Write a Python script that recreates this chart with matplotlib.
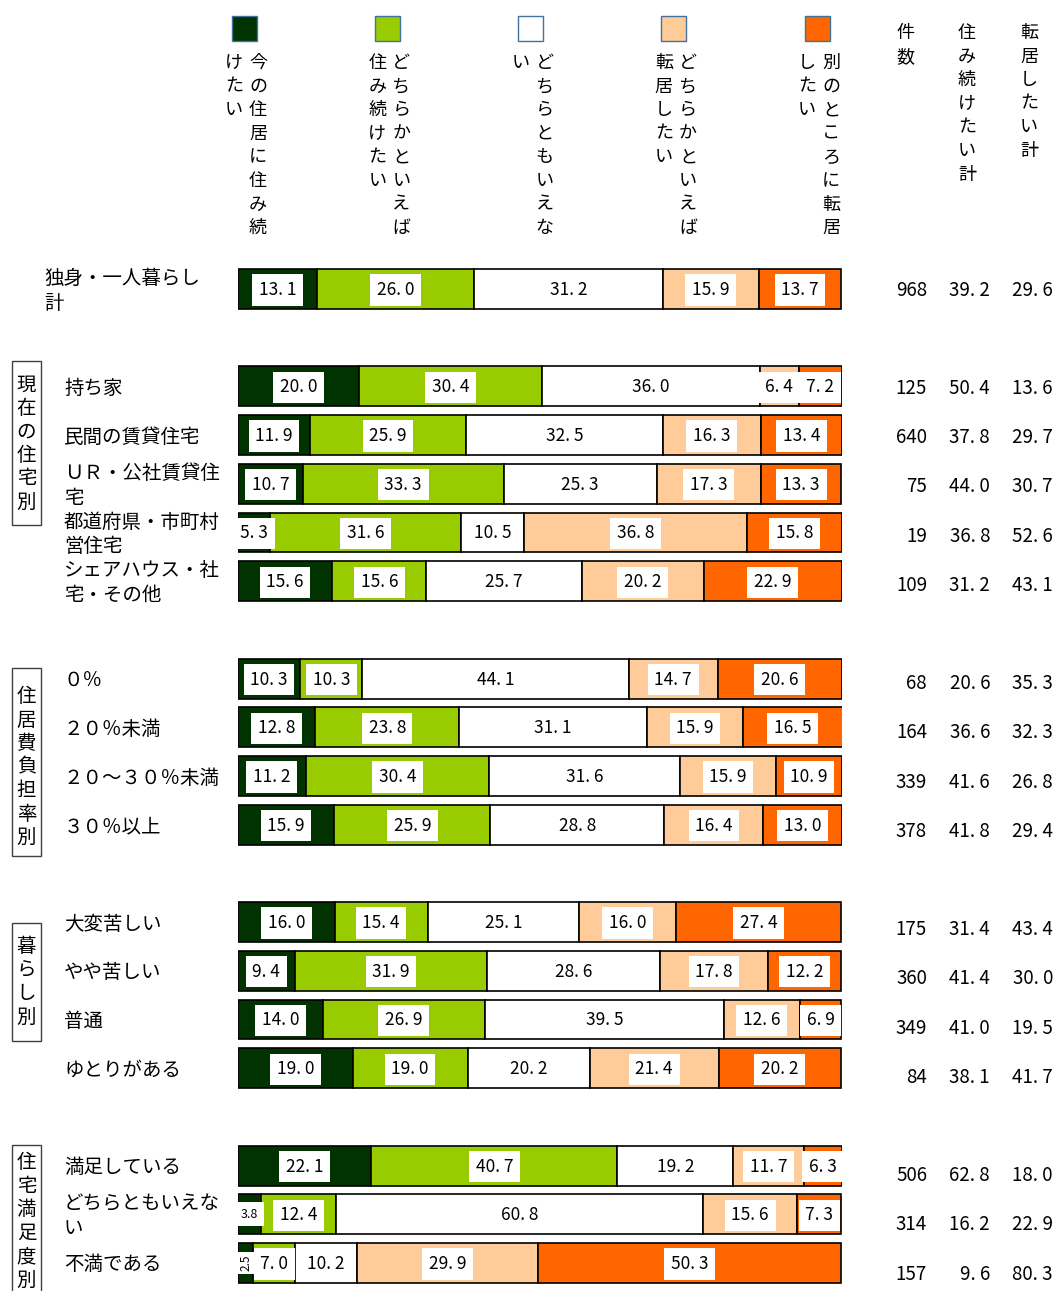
import numpy as np
import matplotlib.pyplot as plt
from matplotlib.patches import Rectangle

plt.rcParams['font.family'] = ['Noto Sans CJK JP', 'DejaVu Sans']

# 回答区分と色
categories = ['今の住居に住み続けたい', 'どちらかといえば住み続けたい', 'どちらともいえない',
              'どちらかといえば転居したい', '別のところに転居したい']
colors = ['#003300', '#99CC00', '#FFFFFF', '#FFCC99', '#FF6600']

row_labels = ['独身・一人暮らし\n計',
              '持ち家', '民間の賃貸住宅', 'ＵＲ・公社賃貸住\n宅', '都道府県・市町村\n営住宅',
              'シェアハウス・社\n宅・その他',
              '０％', '２０％未満', '２０～３０％未満', '３０％以上',
              '大変苦しい', 'やや苦しい', '普通', 'ゆとりがある',
              '満足している', 'どちらともいえな\nい', '不満である']
group_names = ['現在の住宅別', '住居費負担率別', '暮らし別', '住宅満足度別']
group_sizes = [1, 5, 4, 4, 3]

stay = [13.1, 20.0, 11.9, 10.7, 5.3, 15.6, 10.3, 12.8, 11.2, 15.9, 16.0, 9.4, 14.0, 19.0, 22.1, 3.8, 2.5]
stay_maybe = [26.0, 30.4, 25.9, 33.3, 31.6, 15.6, 10.3, 23.8, 30.4, 25.9, 15.4, 31.9, 26.9, 19.0, 40.7, 12.4, 7.0]
neither = [31.2, 36.0, 32.5, 25.3, 10.5, 25.7, 44.1, 31.1, 31.6, 28.8, 25.1, 28.6, 39.5, 20.2, 19.2, 60.8, 10.2]
move_maybe = [15.9, 6.4, 16.3, 17.3, 36.8, 20.2, 14.7, 15.9, 15.9, 16.4, 16.0, 17.8, 12.6, 21.4, 11.7, 15.6, 29.9]
move = [13.7, 7.2, 13.4, 13.3, 15.8, 22.9, 20.6, 16.5, 10.9, 13.0, 27.4, 12.2, 6.9, 20.2, 6.3, 7.3, 50.3]

counts = [968, 125, 640, 75, 19, 109, 68, 164, 339, 378, 175, 360, 349, 84, 506, 314, 157]
stay_total = [39.2, 50.4, 37.8, 44.0, 36.8, 31.2, 20.6, 36.6, 41.6, 41.8, 31.4, 41.4, 41.0, 38.1, 62.8, 16.2, 9.6]
move_total = [29.6, 13.6, 29.7, 30.7, 52.6, 43.1, 35.3, 32.3, 26.8, 29.4, 43.4, 30.0, 19.5, 41.7, 18.0, 22.9, 80.3]
table_heads = ['件数', '住み続けたい計', '転居したい計']

series = [stay, stay_maybe, neither, move_maybe, move]

# row slots: one empty slot between groups
pos = []
k = 0
for gi, n in enumerate(group_sizes):
    if gi > 0:
        k += 1
    for j in range(n):
        pos.append(k)
        k += 1
pos = np.array(pos, dtype=float)

W, H = 1056, 1291
ROW0, PITCH = 289, 48.7          # px of first bar centre, px per slot
BAR_L, BAR_R = 238, 842

fig = plt.figure(figsize=(W / 100, H / 100), dpi=100)

# overlay in pixel units for headers, row names and group boxes
ov = fig.add_axes([0, 0, 1, 1], zorder=0)
ov.set_xlim(0, W)
ov.set_ylim(H, 0)
ov.axis('off')

ax = fig.add_axes([BAR_L / W, 0, (BAR_R - BAR_L) / W, 1], zorder=1)
ax.set_xlim(0, 100)
ax.set_ylim((H - ROW0) / PITCH, -ROW0 / PITCH)
ax.axis('off')


def fmt(v):
    return f'{v:.1f}'.replace('.', '. ')


left = np.zeros(len(pos))
for vals, c in zip(series, colors):
    vals = np.array(vals)
    ax.barh(pos, vals, left=left, height=0.82, color=c, edgecolor='black', linewidth=1.2)
    for y, l, v in zip(pos, left, vals):
        x = l + v / 2
        if v < 3:
            ax.text(x, y, fmt(v).replace(' ', ''), ha='center', va='center', fontsize=8.5,
                    rotation=90, bbox=dict(boxstyle='square,pad=0.2', fc='white', ec='none'))
        elif v < 5:
            ax.text(x, y, fmt(v).replace(' ', ''), ha='center', va='center', fontsize=9,
                    bbox=dict(boxstyle='square,pad=0.45', fc='white', ec='none'))
        else:
            ax.text(x, y + 0.02, fmt(v), ha='center', va='center', fontsize=12.5,
                    bbox=dict(boxstyle='square,pad=0.38', fc='white', ec='none'))
    left += vals

# row names
for i, (y, lab) in enumerate(zip(pos, row_labels)):
    x = 44 if i == 0 else 64
    ov.text(x, ROW0 + PITCH * y + 2, lab, ha='left', va='center', fontsize=14, linespacing=1.25)

# legend: squares and vertical captions
for i, (name, c) in enumerate(zip(categories, colors)):
    cx = 244 + 143.3 * i
    ov.add_patch(Rectangle((cx - 12.5, 16), 25, 25, fc=c, ec='#41719C', lw=1))
    cols = [name[:8], name[8:]]
    for j, part in enumerate(cols):
        xx = cx + 14 if j == 0 else cx - 10
        for m, ch in enumerate(part):
            ov.text(xx, 63 + 23.6 * m, ch, ha='center', va='center', fontsize=13)

# table header
for xx, head in zip([905, 967, 1029], table_heads):
    for m, ch in enumerate(head):
        ov.text(xx, 33 + 23.6 * m, ch, ha='center', va='center', fontsize=13)

# table values
for y, n, s, mv in zip(pos, counts, stay_total, move_total):
    ty = ROW0 + 49.2 * y + 1
    ov.text(927, ty, str(n), ha='right', va='center', fontsize=13.5)
    ov.text(990, ty, fmt(s), ha='right', va='center', fontsize=13.5)
    ov.text(1053, ty, fmt(mv), ha='right', va='center', fontsize=13.5)

# group boxes with vertical names
box_tops = [361, 668, 923, 1145]
char_tops = [385, 697, 947, 1163]
for top, c0, name in zip(box_tops, char_tops, group_names):
    h = len(name) * 23.4 + 24
    ov.add_patch(Rectangle((12, top), 29, h, fc='white', ec='#404040', lw=1))
    for m, ch in enumerate(name):
        ov.text(26.5, c0 + 23.4 * m, ch, ha='center', va='center', fontsize=14)

fig.savefig('out.png', dpi=100)
